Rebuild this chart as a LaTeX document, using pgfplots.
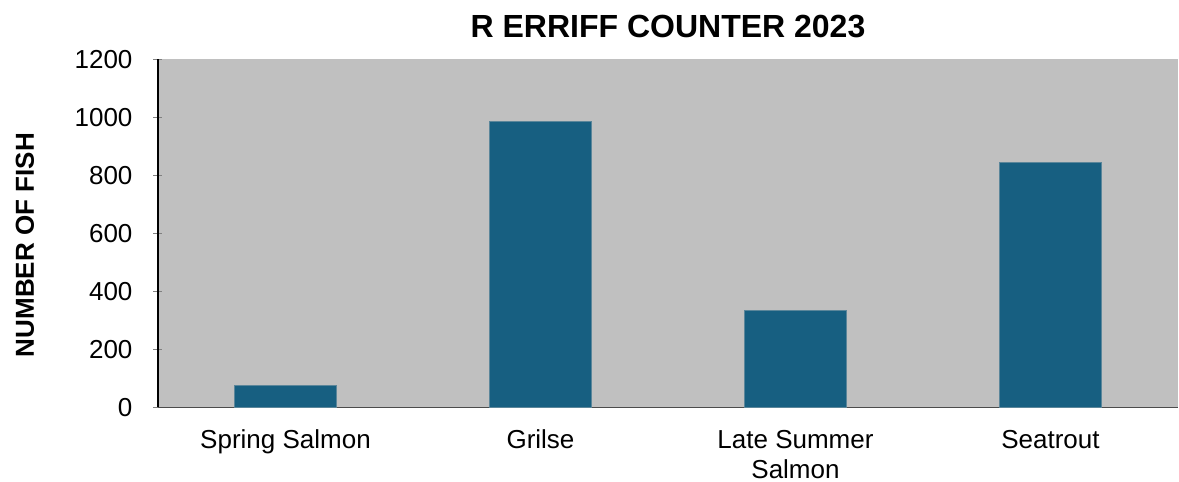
\documentclass[border=0pt]{standalone}
\usepackage{pgfplots}
\pgfplotsset{compat=1.18}
\usepackage{fontspec}
\setmainfont{Liberation Sans}
\definecolor{barblue}{HTML}{175F81}
\definecolor{bargray}{HTML}{C0C0C0}
\begin{document}
\begin{tikzpicture}
\begin{axis}[
    scale only axis,
    width=510pt, height=174pt,
    ybar, bar width=0.4,
    xmin=-0.5, xmax=3.5,
    ymin=0, ymax=1200,
    ytick={0,200,...,1200},
    xtick={0,1,2,3},
    xticklabels={Spring Salmon, Grilse, {Late Summer\\Salmon}, Seatrout},
    xticklabel style={align=center, font=\fontsize{13}{15}\selectfont, yshift=-5.5pt},
    yticklabel style={font=\fontsize{13}{15}\selectfont, xshift=-7pt},
    major x tick style={draw=none},
    extra x ticks={-0.5,0.5,1.5,2.5,3.5},
    extra x tick labels={},
    extra x tick style={major tick length=4.5pt, tick align=outside, tick style={draw=black!75}},
    tick align=outside,
    major tick length=4.5pt,
    axis x line=bottom, axis y line=left,
    x axis line style={-, draw=black!70, line width=0.8pt},
    y axis line style={-, line width=0.6pt},
    axis background/.style={fill=bargray},
    /pgf/number format/assume math mode=true,
    /pgf/number format/1000 sep={},
    title={\bfseries R ERRIFF COUNTER 2023},
    title style={font=\fontsize{16}{19}\selectfont, at={(axis description cs:0.5,1)}, anchor=base, yshift=5pt},
    ylabel={\bfseries NUMBER OF FISH},
    ylabel style={font=\fontsize{13}{15}\selectfont, at={(axis description cs:0,0.466)}, anchor=center, yshift=66.5pt},
]
\addplot[fill=barblue, draw=barblue!60!bargray, line width=0.4pt, bar shift=0pt] coordinates {
    (0, 75)
    (1, 985)
    (2, 335)
    (3, 843)
};
\end{axis}
\pgfresetboundingbox
\useasboundingbox (-79pt,-37.35pt) rectangle (510.5pt,203.65pt);
\end{tikzpicture}
\end{document}
